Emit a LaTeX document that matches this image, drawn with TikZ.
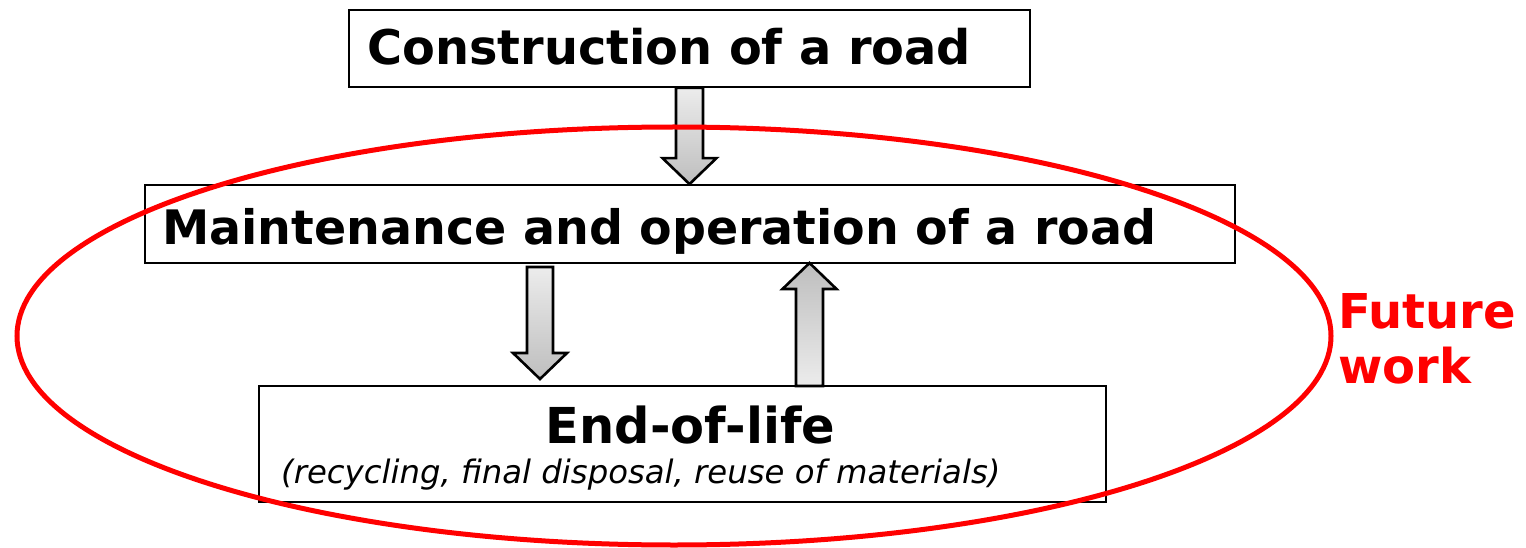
\documentclass[tikz,border=0pt]{standalone}
\usepackage{fontspec}
\setmainfont{DejaVu Sans}
\usetikzlibrary{calc}
\definecolor{futred}{RGB}{255,0,0}
\definecolor{arrlight}{RGB}{236,236,236}
\definecolor{arrdark}{RGB}{190,190,190}
\tikzset{
  box/.style={draw=black, line width=1.8pt, fill=white, inner sep=0pt},
  txt/.style={inner sep=0pt, anchor=base west, font=\bfseries\fontsize{48}{50}\selectfont},
  blockarrow/.style={draw=black, line width=2.6pt, line join=miter},
  downarrow/.style={blockarrow, top color=arrlight, bottom color=arrdark},
  uparrow/.style={blockarrow, top color=arrdark, bottom color=arrlight},
}
\begin{document}
\begin{tikzpicture}[x=1pt,y=-1pt]
\useasboundingbox (0,0) rectangle (1526,548);
\fill[white] (0,0) rectangle (1526,548);
% boxes
\node[box, minimum width=681pt, minimum height=77pt] (c) at (689.5,48.5) {};
\node[box, minimum width=1090pt, minimum height=78pt] (m) at (690,224) {};
\node[box, minimum width=847pt, minimum height=116pt] (e) at (682.5,444) {};
% texts
\node[txt, font=\bfseries\fontsize{47.8}{50}\selectfont] (ct) at (367,65) {Construction of a road};
\node[txt, font=\bfseries\fontsize{47.5}{50}\selectfont] (mt) at (162,244) {Maintenance and operation of a road};
\node[txt, anchor=base, font=\bfseries\fontsize{49.5}{52}\selectfont] (et) at (690.5,443) {End-of-life};
\node[inner sep=0pt, anchor=base west, font=\itshape\fontsize{32.3}{36}\selectfont] (ei) at (281,483) {(recycling, final disposal, reuse of materials)};
\node[txt, text=futred] (fw1) at (1338,328) {Future};
\node[txt, text=futred] (fw2) at (1338,383) {work};
% arrow 1: construction -> maintenance
\shade[downarrow]
  ([xshift=-13.5pt]c.south) -- ([xshift=13.5pt]c.south)
  -- ([xshift=13.5pt,yshift=26pt]c.south |- m.north)
  -- ([xshift=27pt,yshift=26pt]c.south |- m.north)
  -- (c.south |- m.north)
  -- ([xshift=-27pt,yshift=26pt]c.south |- m.north)
  -- ([xshift=-13.5pt,yshift=26pt]c.south |- m.north)
  -- cycle;
% arrow 2: maintenance -> end-of-life
\coordinate (a2s) at (540,267);
\coordinate (a2e) at (540,379);
\shade[downarrow]
  ([xshift=-13pt]a2s) -- ([xshift=13pt]a2s)
  -- ([xshift=13pt,yshift=26pt]a2e)
  -- ([xshift=27pt,yshift=26pt]a2e)
  -- (a2e)
  -- ([xshift=-27pt,yshift=26pt]a2e)
  -- ([xshift=-13pt,yshift=26pt]a2e)
  -- cycle;
% arrow 3: end-of-life -> maintenance
\coordinate (a3s) at (809.5,386);
\coordinate (a3e) at (809.5,263);
\shade[uparrow]
  ([xshift=-13.5pt]a3s) -- ([xshift=13.5pt]a3s)
  -- ([xshift=13.5pt,yshift=-26pt]a3e)
  -- ([xshift=27pt,yshift=-26pt]a3e)
  -- (a3e)
  -- ([xshift=-27pt,yshift=-26pt]a3e)
  -- ([xshift=-13.5pt,yshift=-26pt]a3e)
  -- cycle;
% ellipse
\draw[futred, line width=5pt] (674,336) ellipse [x radius=657, y radius=209];
\end{tikzpicture}
\end{document}
